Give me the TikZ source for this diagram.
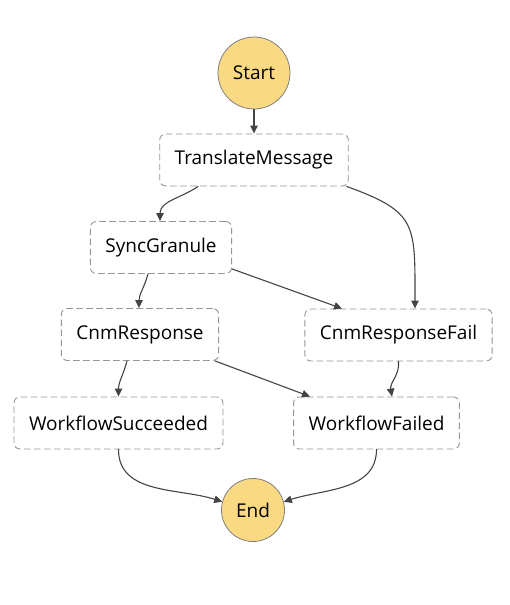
\documentclass[tikz,border=0pt]{standalone}
\usepackage{fontspec}
\setmainfont{Open Sans}
\usetikzlibrary{arrows.meta,calc,positioning}

\definecolor{stateYellow}{RGB}{249,217,130}
\definecolor{stateBorder}{RGB}{128,128,128}
\definecolor{taskBorder}{RGB}{150,150,150}
\definecolor{flowLine}{RGB}{68,68,68}

\begin{document}
\begin{tikzpicture}[x=1pt, y=-1pt, font=\fontsize{19}{22}\selectfont, line cap=round, line join=round]
    \useasboundingbox (0,0) rectangle (510,605);

    \tikzset{
        terminal/.style={circle, draw=stateBorder, fill=stateYellow, line width=0.8pt, inner sep=0pt},
        task/.style={draw=taskBorder, fill=white, line width=0.9pt, rounded corners=6pt,
            dash pattern=on 6pt off 4pt, minimum height=52pt, inner xsep=15pt, inner ysep=0pt},
        flow/.style={draw=flowLine, line width=1.1pt, -{Triangle[length=8pt,width=7.5pt]}}
    }

    % States
    \node[terminal, minimum size=72pt] (start) at (254,73) {Start};
    \node[task] (translate) at (254,160) {TranslateMessage};
    \node[task] (sync) at (161,247.5) {SyncGranule};
    \node[task] (cnm) at (140,334.5) {CnmResponse};
    \node[task] (cnmfail) at (398.5,335) {CnmResponseFail};
    \node[task] (succeeded) at (118.5,423) {WorkflowSucceeded};
    \node[task] (failed) at (376.5,423) {WorkflowFailed};
    \node[terminal, minimum size=63pt] (end) at (253,510) {End};

    % Transitions
    \draw[flow] (start) -- (translate);
    \draw[flow] ([xshift=-56pt]translate.south) to[out=-145, in=90] ([xshift=-1pt]sync.north);
    \draw[flow] ([xshift=-2pt]translate.south east) .. controls +(20:75) and +(-90:85) .. ([xshift=16.5pt]cnmfail.north);
    \draw[flow] ([xshift=-13pt]sync.south) to[out=-105, in=90] ([xshift=-1pt]cnm.north);
    \draw[flow] ([yshift=5pt]sync.south east) -- ([xshift=-56.5pt]cnmfail.north);
    \draw[flow] ([xshift=-13pt]cnm.south) to[out=-105, in=90] (succeeded.north);
    \draw[flow] ([xshift=-4pt]cnm.south east) -- ([xshift=-66.5pt]failed.north);
    \draw[flow] (cnmfail.south) to[out=-85, in=100] ([xshift=15.5pt]failed.north);
    \draw[flow] (succeeded.south) to[out=-90, in=162] (end.165);
    \draw[flow] (failed.south) to[out=-90, in=18] (end.15);
\end{tikzpicture}
\end{document}
